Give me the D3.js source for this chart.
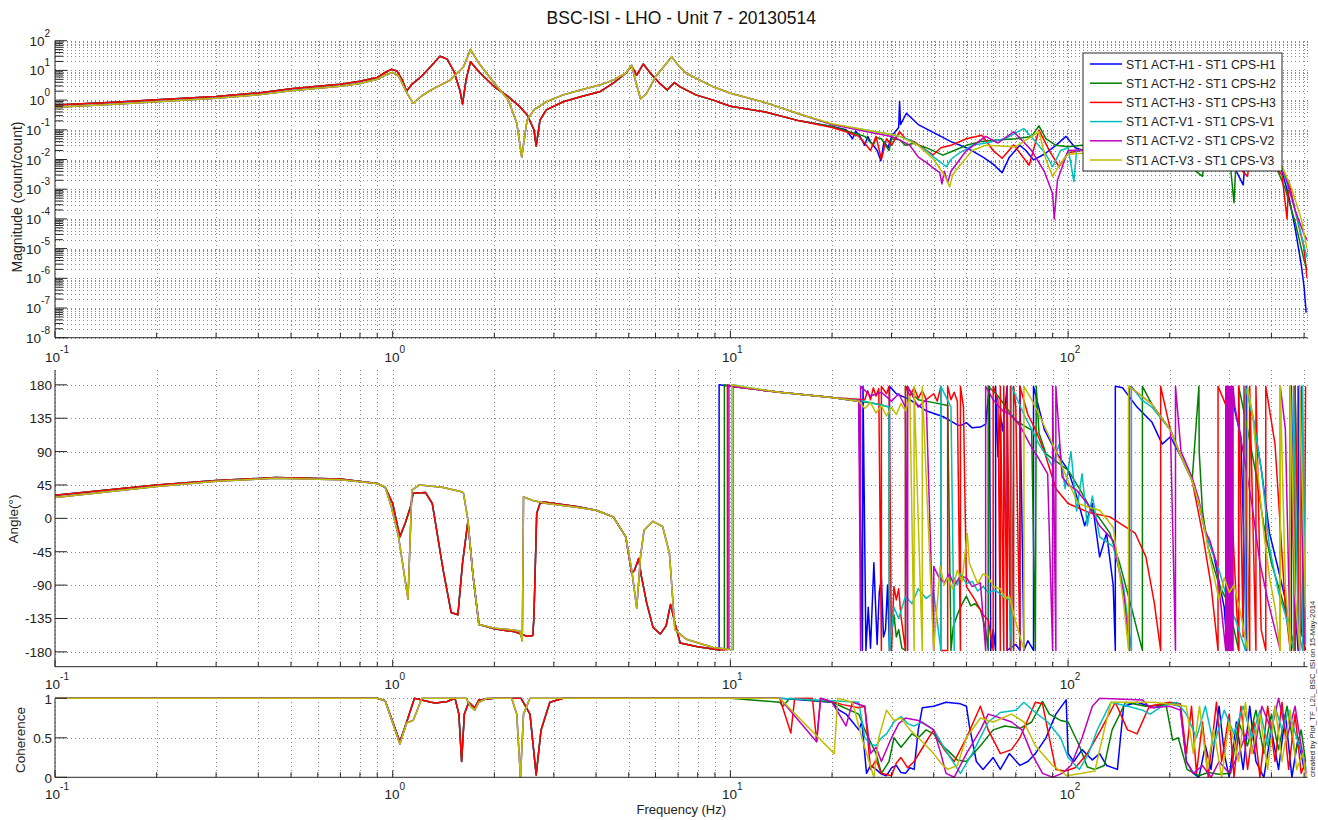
<!DOCTYPE html>
<html>
<head>
<meta charset="utf-8">
<script src="https://cdn.jsdelivr.net/npm/d3@7/dist/d3.min.js"></script>
<style>
  body { margin: 0; background: #fff; }
  svg { display: block; font-family: "Liberation Sans", Arial, Helvetica, sans-serif; }
</style>
</head>
<body>
<div id="chart"></div>
<script>
// ---- data ----
const seriesNames = [
  "ST1 ACT-H1 - ST1 CPS-H1", "ST1 ACT-H2 - ST1 CPS-H2", "ST1 ACT-H3 - ST1 CPS-H3",
  "ST1 ACT-V1 - ST1 CPS-V1", "ST1 ACT-V2 - ST1 CPS-V2", "ST1 ACT-V3 - ST1 CPS-V3"
];
const freqDomain = [0.1, 512];
const magTickExps = [-8, -7, -6, -5, -4, -3, -2, -1, 0, 1, 2];
const angleTicks = [-180, -135, -90, -45, 0, 45, 90, 135, 180];
const cohTicks = [0, 0.5, 1];

// magnitude, shared low band (H and V actuators)
const magLowH = [[0.1,0.68],[0.15,0.85],[0.2,1.02],[0.3,1.32],[0.4,1.75],[0.5,2.4],[0.6,2.9],[0.7,3.4],[0.8,4.3],[0.9,5.8],[0.95,8.5],[0.99,10.9],[1.03,9.5],[1.07,4.5],[1.1,2.0],[1.14,3.4],[1.22,6.5],[1.3,14],[1.38,30],[1.45,24],[1.52,9],[1.58,2.2],[1.61,0.74],[1.65,5],[1.7,19.6],[1.8,9],[2.0,2.8],[2.2,1.3],[2.38,0.6],[2.5,0.32],[2.62,0.1],[2.66,0.028],[2.73,0.21],[2.85,0.47],[3.2,0.88],[3.6,1.3],[4.1,1.9],[4.5,3.7],[4.9,8],[5.1,14],[5.28,7],[5.52,16.4],[5.8,8],[6.2,3.5],[6.5,2.2],[6.83,3.9],[7.1,2.8],[7.9,1.5],[8.9,1.0],[10,0.62],[12.7,0.4],[16,0.2]];
const magLowV = [[0.1,0.58],[0.15,0.72],[0.2,0.88],[0.3,1.15],[0.4,1.5],[0.5,2.05],[0.6,2.5],[0.7,2.9],[0.8,3.6],[0.9,5],[0.95,7],[1.0,8.5],[1.04,6.5],[1.1,1.8],[1.15,0.78],[1.22,1.4],[1.3,2.2],[1.48,4.7],[1.62,13],[1.7,51],[1.8,17.3],[2.0,3.7],[2.2,1.0],[2.33,0.17],[2.41,0.012],[2.5,0.21],[2.62,0.47],[2.85,0.88],[3.2,1.5],[3.6,2.2],[4.1,3.2],[4.5,4.7],[4.9,8],[5.1,15],[5.25,4],[5.42,1.09],[5.65,1.7],[6.0,6.1],[6.4,15],[6.7,29],[7.0,15],[7.4,8],[8.9,2.8],[10,1.7],[12.7,0.82],[16,0.34]];

const magHighH1 = [[20,0.13],[22,0.1],[23,0.05],[23.5,0.09],[24,0.07],[25,0.03],[25.5,0.06],[26,0.04],[27.2,0.02],[27.9,0.009],[28.5,0.04],[29.3,0.025],[30,0.06],[31.5,0.12],[31.7,0.9],[31.9,0.15],[33.2,0.36],[36,0.15],[40,0.08],[45,0.04],[50,0.025],[56,0.012],[60,0.007],[63.8,0.0036],[67,0.012],[72,0.03],[75,0.02],[79,0.0097],[85,0.015],[92,0.03],[98.6,0.06],[105,0.025],[120,0.015],[150,0.02],[200,0.02],[250,0.015],[300,0.012],[330,0.0014],[335,0.012],[380,0.01],[405,0.008],[430,0.004],[450,0.0006],[470,0.00005],[490,0.000003],[500,0.0000005],[507,0.00000007]];
const magHighH2 = [[20,0.13],[23,0.08],[25,0.06],[26.5,0.03],[27,0.055],[28,0.05],[29.5,0.02],[30,0.05],[31.7,0.046],[33,0.03],[35,0.035],[38,0.025],[42.6,0.014],[46,0.02],[50,0.03],[55,0.04],[62,0.045],[70,0.05],[78,0.06],[82,0.136],[86,0.05],[92,0.03],[100,0.027],[110,0.03],[150,0.025],[200,0.02],[250,0.0027],[255,0.02],[300,0.015],[310,0.00035],[315,0.015],[380,0.012],[410,0.007],[440,0.001],[470,0.00008],[500,0.000004],[510,0.000002]];
const magHighH3 = [[20,0.12],[22.5,0.08],[24,0.06],[25,0.035],[26,0.02],[27,0.06],[28,0.01],[29,0.05],[30,0.03],[31.7,0.086],[33,0.05],[35,0.04],[37,0.025],[39.8,0.0142],[42,0.025],[45,0.03],[50,0.05],[55.6,0.065],[60,0.02],[63.8,0.011],[69,0.031],[76.7,0.0064],[82,0.098],[88,0.02],[94,0.0057],[100,0.017],[110,0.02],[150,0.02],[200,0.018],[300,0.012],[340,0.0027],[345,0.012],[400,0.008],[430,0.003],[445,0.0001],[450,0.002],[470,0.0002],[500,0.00001],[510,0.000001]];
const magHighV1 = [[20,0.15],[25,0.1],[30,0.07],[31.7,0.06],[34,0.045],[36,0.03],[38,0.02],[40,0.012],[43.6,0.0057],[45,0.01],[47,0.015],[52,0.03],[57,0.036],[65,0.05],[73.9,0.11],[80,0.04],[86,0.015],[90,0.0057],[95,0.02],[100,0.025],[104,0.0018],[106,0.02],[150,0.025],[200,0.02],[300,0.015],[400,0.01],[430,0.005],[460,0.0005],[490,0.00003],[510,0.000005]];
const magHighV2 = [[20,0.15],[25,0.09],[30,0.06],[31.7,0.046],[34,0.03],[36,0.012],[38,0.008],[40,0.005],[41.7,0.0036],[42.3,0.0015],[43,0.004],[44,0.0017],[45,0.004],[50,0.02],[57,0.06],[62,0.036],[69,0.086],[78,0.02],[85,0.004],[90,0.0007],[91,0.0001],[93,0.002],[100,0.02],[150,0.025],[200,0.02],[300,0.015],[400,0.01],[440,0.003],[470,0.0002],[500,0.00003],[510,0.00002]];
const magHighV3 = [[20,0.16],[25,0.1],[30,0.07],[31.7,0.06],[36,0.03],[40,0.01],[43,0.003],[44.6,0.0012],[45.5,0.003],[47,0.005],[52,0.02],[57,0.03],[70,0.027],[82,0.086],[86,0.01],[90,0.0027],[95,0.0075],[100,0.015],[150,0.02],[200,0.02],[300,0.015],[400,0.01],[430,0.006],[460,0.001],[490,0.0001],[510,0.00001]];

// phase (deg)
const phaseLowH = [[0.1,31],[0.2,45],[0.3,51],[0.45,55],[0.7,53],[0.9,47],[0.95,42],[1.0,20],[1.05,-25],[1.09,-6],[1.13,16],[1.15,34],[1.25,35],[1.31,20],[1.41,-69],[1.49,-127],[1.56,-130],[1.61,-60],[1.67,-4],[1.73,-78],[1.8,-143],[2.0,-149],[2.3,-153],[2.5,-159],[2.6,-158],[2.62,-132],[2.67,7],[2.73,20],[2.8,22],[3.5,16],[4.0,11],[4.5,2],[4.9,-25],[5.1,-74],[5.2,-70],[5.35,-54],[5.45,-78],[5.65,-114],[5.9,-147],[6.2,-156],[6.45,-145],[6.65,-116],[6.85,-141],[7.1,-168],[8,-173],[9.2,-177]];
const phaseLowV = [[0.1,28],[0.2,43],[0.3,50],[0.45,54],[0.7,52],[0.9,47],[0.95,42],[0.99,16],[1.04,-24],[1.11,-109],[1.14,38],[1.2,45],[1.4,42],[1.6,36],[1.62,34],[1.67,-2],[1.73,-78],[1.8,-143],[2.0,-148],[2.2,-150],[2.38,-152],[2.42,-165],[2.44,29],[2.6,24],[2.86,20],[3.5,15],[4.0,11],[4.5,2],[4.9,-25],[5.1,-69],[5.28,-121],[5.42,-51],[5.55,-16],[5.9,-4],[6.3,-11],[6.6,-47],[6.85,-150],[7.4,-163],[8.9,-174],[9.7,-176]];

const phaseHighH1 = [[9.26,-178],[9.26,180],[10,178],[14,170],[20,163],[24,158],[24.6,-178],[24.7,178],[25.2,-178],[25.6,-120],[26,-175],[26.6,-60],[27.2,-170],[27.6,-100],[28,-80],[28.4,-160],[28.8,-150],[29.2,-90],[29.6,-178],[29.6,178],[31,168],[34,160],[38,145],[42.7,137],[45,131],[47,126],[48,125],[50,129],[52,122],[55,123],[57,127],[58.5,178],[59,-178],[60,-150],[61,-178],[61,178],[62,83],[63,140],[64,118],[66,178],[66,-178],[70,-170],[72,-178],[72,178],[74,-178],[76,-165],[79,-178],[79,178],[85,120],[92,90],[100,65],[106,30],[112,-10],[118,20],[124,-52],[130,-20],[136,-90],[138,-178],[138,178],[145,176],[160,150],[177,130],[190,100],[201,110],[216,83],[233,51],[244,20],[254,-16],[270,-50],[290,-120],[296,-178],[296,178],[310,150],[325,110],[338,-178],[338,178],[355,130],[375,60],[395,-20],[420,-70],[440,-110],[458,-178],[458,178],[470,-120],[480,-178],[480,178],[490,-150],[505,-178]];
const phaseHighH2 = [[9.6,-177],[9.6,180],[10,178],[14,170],[20,163],[25,157],[28,153],[29.5,150],[29.6,-178],[30.5,-130],[31,-160],[31.5,-150],[32.2,-175],[33,-178],[33,178],[36,160],[40,156],[44,152],[45,-178],[45.7,-146],[47,-130],[48,-120],[49,-112],[50,-105],[51.5,-118],[53,-115],[55,-123],[57,-150],[58,-178],[58,178],[62,165],[66,148],[70,132],[74,125],[78,119],[80,-178],[80.5,178],[82,115],[86,87],[94,74],[100,65],[108,40],[116,15],[124,0],[133,-20],[142,-60],[152,-110],[160,-150],[166,-178],[166,178],[177,154],[201,119],[216,83],[233,51],[244,178],[244.5,90],[250,10],[260,-40],[280,-90],[298,-114],[310,-150],[320,-178],[320,178],[340,120],[360,60],[380,-10],[400,-60],[425,-100],[450,-140],[470,-178],[470,178],[485,-150],[505,-170]];
const phaseHighH3 = [[9.8,-177],[9.8,180],[10,178],[14,170],[20,163],[25,160],[25.5,172],[26,160],[26.5,176],[27,165],[27.5,175],[28,-178],[28,178],[29,168],[29.5,178],[30,-178],[30.5,-92],[31,-110],[31.5,-95],[32,-132],[33,-178],[33,178],[34,165],[35,176],[36,162],[37,172],[38,160],[40,168],[41,158],[42,178],[42,-178],[44,-178],[44,178],[45,160],[46,170],[47,158],[48,-178],[48,178],[49,150],[50,-92],[53,-110],[56,-130],[58,-137],[60,-178],[60,178],[62,160],[63,-178],[63,178],[64.5,-178],[64.5,178],[66,-178],[66,178],[67.5,-178],[67.5,178],[69,-178],[69,178],[70,150],[72,-178],[72,178],[76,140],[80,120],[85,90],[92,40],[100,20],[115,8],[133,2],[158,-20],[170,-52],[180,-114],[188,-178],[188,178],[201,119],[216,83],[233,51],[250,-20],[265,-90],[278,-178],[278,178],[295,150],[320,-178],[320,178],[330,-160],[332,178],[345,-178],[345,178],[360,-178],[360,178],[373,-150],[385,-178],[385,178],[410,100],[440,-120],[455,-178],[455,178],[470,-178],[470,178],[485,-160],[492,178],[500,-178],[505,178]];
const phaseHighV1 = [[10.2,-177],[10.2,180],[11,177],[14,170],[20,163],[25,158],[29.5,150],[29.6,-178],[30.5,-120],[31.5,-135],[33,-105],[34.5,-115],[36,-95],[38,-108],[40,-100],[42,-178],[42,178],[45,150],[46,-178],[46,-80],[47,-90],[48,-75],[50,-88],[52,-85],[54,-98],[56,-92],[58,-100],[61,-97],[64,-105],[67,-110],[68,-178],[68,178],[70,165],[74,140],[78,120],[82,100],[86,85],[90,70],[94,100],[98,40],[102,90],[106,10],[110,60],[114,-10],[118,30],[124,-25],[136,-38],[146,-92],[154,-178],[154,178],[165,160],[177,150],[201,119],[216,83],[233,51],[244,20],[254,-16],[280,-70],[298,-114],[315,-140],[335,-178],[335,178],[355,130],[375,60],[395,-40],[420,-100],[440,-130],[465,-178],[465,178],[480,-150],[495,-178],[495,178],[505,-170]];
const phaseHighV2 = [[9.9,-177],[9.9,180],[10,178],[14,170],[20,163],[24,158],[24.3,-178],[24.3,178],[26,165],[28,170],[30,158],[31.5,168],[33,150],[33.5,-178],[33.5,178],[36,150],[38,160],[40,-178],[40,-65],[41.5,-80],[43,-87],[44.5,-75],[46,-90],[48,-78],[50,-80],[52,-92],[55,-87],[57,-178],[57,178],[60,160],[64,145],[67,141],[72,125],[77,100],[82,80],[87,60],[90,-178],[90,178],[92,-178],[92,178],[96,56],[100,45],[106,38],[114,20],[124,-10],[136,-30],[146,-100],[152,-178],[152,178],[165,165],[177,154],[201,119],[208,-178],[208,178],[216,90],[233,55],[244,25],[254,-16],[263,-30],[275,-60],[293,-178],[293,178],[296,-178],[296,178],[299,-178],[299,178],[302,-178],[302,178],[305,-178],[305,178],[308,-178],[308,178],[312,150],[330,90],[350,20],[370,-60],[390,-110],[410,-150],[425,-178],[425,178],[440,120],[455,-178],[455,178],[470,-130],[485,-178],[485,178],[500,-170]];
const phaseHighV3 = [[10.1,-177],[10.1,180],[11,177],[14,170],[20,163],[24,158],[25,148],[26,156],[27,142],[28,152],[29,138],[30,150],[31,140],[32,155],[33,145],[34,165],[35,-178],[35,178],[37,-178],[37,178],[40,-178],[41.8,-65],[43,-90],[44,-80],[45.5,-95],[47,-70],[48.5,-85],[50.3,-20],[51,-60],[52,-70],[54,-88],[56,-75],[58,-78],[60,-92],[63,-95],[65,-108],[67,-105],[70,-140],[74,-177],[74,178],[78,160],[82,140],[88,110],[94,80],[100,50],[107,20],[115,15],[124,11],[136,-12],[146,-114],[151,-177],[151,178],[160,170],[177,154],[201,119],[216,83],[233,51],[244,20],[254,-16],[265,-60],[280,-110],[290,-80],[300,-100],[310,-90],[325,-130],[340,-178],[340,178],[352,140],[365,60],[380,-20],[395,-80],[410,-120],[425,-178],[425,178],[440,-90],[455,-178],[455,178],[470,-100],[485,-178],[485,178],[505,-120]];

// coherence
const cohLowH = [[0.1,1],[0.9,1],[0.95,0.97],[1.05,0.45],[1.1,0.7],[1.16,1.0],[1.3,0.95],[1.34,0.94],[1.45,0.96],[1.53,1.0],[1.57,0.8],[1.6,0.2],[1.63,0.8],[1.68,0.95],[1.75,0.88],[1.8,0.98],[2.0,1],[2.4,1],[2.55,0.8],[2.66,0.03],[2.75,0.6],[2.92,0.95],[3.2,1],[10,1]];
const cohLowV = [[0.1,1],[0.9,1],[0.95,0.97],[1.05,0.42],[1.1,0.69],[1.15,0.72],[1.22,1.0],[1.65,1.0],[1.7,0.9],[1.75,0.85],[1.8,0.95],[1.9,1],[2.25,1],[2.33,0.8],[2.39,0.0],[2.44,0.8],[2.55,1],[10,1]];

const cohHighH1 = [[14,1],[20,0.95],[21,0.85],[22,0.8],[23,0.7],[24,0.6],[24.5,0.7],[25.3,0.05],[26,0.15],[27,0.1],[28,0.04],[29,0.02],[30,0.12],[31,0.15],[32,0.06],[33,0.05],[34,0.12],[35,0.1],[36,0.6],[37,0.88],[40,0.9],[43.5,0.95],[48,0.93],[50,0.9],[51,0.65],[53.5,0.2],[56,0.1],[60,0.25],[63,0.1],[67,0.3],[72,0.15],[76,0.2],[80,0.3],[86,0.5],[92,0.8],[98.7,0.98],[100,0.3],[104,0.2],[110,0.35],[118,0.22],[124,0.3],[130,0.15],[140,0.1],[146,0.9],[160,0.95],[180,0.88],[200,0.93],[215,0.9],[224,0.2],[235,0.05],[244,0.0],[255,0.4],[265,0.1],[280,0.9],[290,0.3],[300,0.0],[315,0.7],[330,0.1],[345,0.9],[360,0.2],[380,0.0],[400,0.6],[420,0.1],[440,0.8],[460,0.0],[480,0.5],[500,0.1]];
const cohHighH2 = [[14,0.95],[14.3,0.9],[15,1],[20,0.95],[24,0.8],[25,0.6],[27,0.3],[28,0.05],[29.5,0.2],[30.5,0.5],[32,0.38],[33,0.45],[34.5,0.55],[36,0.5],[38,0.6],[40,0.55],[42,0.42],[45,0.3],[47,0.22],[50,0.2],[55,0.4],[60,0.6],[65,0.65],[72,0.62],[78,0.7],[84,0.96],[88,0.8],[95,0.72],[100,0.7],[108,0.4],[114,0.13],[120,0.1],[128,0.15],[135,0.6],[148,0.95],[170,0.9],[195,0.92],[204,0.47],[212,0.5],[225,0.1],[244,0.02],[260,0.06],[280,0.04],[303,0.05],[320,0.7],[340,0.4],[360,0.85],[380,0.3],[400,0.8],[420,0.35],[445,0.9],[470,0.3],[490,0.6],[505,0.2]];
const cohHighH3 = [[14,1],[15.1,0.56],[15.5,1],[17.5,1],[18,0.45],[18.5,1],[21.5,0.92],[24,0.88],[25,0.9],[26,0.1],[27,0.22],[28,0.05],[30,0.02],[31,0.18],[32,0.25],[33.5,0.12],[35,0.2],[38,0.45],[40,0.6],[43,0.35],[46,0.2],[50,0.5],[55,0.9],[58,0.6],[63,0.3],[68,0.35],[72,0.5],[80,0.95],[84,0.93],[88,0.5],[92,0.1],[98,0.08],[105,0.12],[114,0.3],[125,0.6],[138,0.95],[150,0.6],[160,0.55],[174,0.9],[200,0.95],[215,0.93],[224,0.3],[232,0.9],[240,0.05],[250,0.7],[260,0.0],[275,0.95],[285,0.2],[300,0.8],[310,0.0],[325,0.9],[340,0.1],[355,0.7],[370,0.0],[390,0.9],[410,0.2],[430,0.95],[450,0.1],[470,0.8],[490,0.05],[505,0.2]];
const cohHighV1 = [[14,1],[20,0.97],[24,0.95],[25,0.5],[26,0.42],[27,0.4],[28,0.5],[29,0.55],[30.5,0.7],[32,0.77],[33.5,0.68],[35,0.65],[37,0.7],[40,0.6],[44,0.3],[48,0.05],[52,0.3],[58,0.7],[63,0.82],[70,0.85],[74,0.95],[80,0.82],[87,0.7],[95,0.5],[100,0.25],[108,0.1],[115,0.3],[122,0.6],[134,0.95],[150,0.9],[166,0.85],[175,0.8],[190,0.9],[210,0.95],[224,0.8],[240,0.5],[255,0.9],[270,0.4],[290,0.85],[310,0.55],[330,0.9],[350,0.5],[370,0.85],[390,0.4],[410,0.9],[430,0.6],[450,0.85],[475,0.5],[495,0.3],[507,0.1]];
const cohHighV2 = [[14,1],[18,0.45],[18.5,1],[20,0.95],[22,0.65],[23,0.95],[25,0.9],[26,0.3],[27,0.38],[28,0.2],[30,0.5],[31.5,0.68],[33,0.75],[36,0.72],[38,0.66],[40,0.6],[42,0.3],[43.5,0.05],[46,0.0],[50,0.3],[55,0.6],[58,0.8],[63,0.75],[68,0.7],[73,0.6],[78,0.3],[84,0.05],[90,0.0],[96,0.05],[102,0.15],[110,0.5],[118,0.9],[124,1.0],[166,0.98],[175,0.88],[200,0.9],[215,0.85],[224,0.2],[235,0.05],[250,0.15],[265,0.0],[280,0.2],[300,0.05],[320,0.3],[340,0.6],[355,0.3],[375,0.9],[400,0.6],[420,1.0],[445,0.5],[470,0.9],[490,0.4],[507,0.05]];
const cohHighV3 = [[14,1],[20.3,0.3],[20.8,1],[23,0.95],[24.5,0.5],[26.6,0.0],[27.5,0.5],[29,0.85],[30.5,0.72],[32,0.75],[34,0.6],[36,0.5],[38,0.4],[40,0.3],[42,0.18],[44,0.1],[47,0.15],[50,0.5],[55,0.75],[60,0.7],[68,0.8],[74,0.7],[80,0.4],[90,0.15],[99,0.02],[110,0.05],[120,0.08],[128,0.6],[134,0.95],[180,0.95],[224,0.9],[235,0.3],[245,0.9],[258,0.1],[270,0.6],[285,0.0],[300,0.7],[320,0.2],[335,0.95],[350,0.3],[370,0.8],[390,0.1],[410,0.9],[430,0.2],[455,0.85],[475,0.1],[495,0.3],[507,0.0]];

// ---- assemble ----
const colors = ["#0000ff", "#008000", "#ff0000", "#00bfbf", "#bf00bf", "#bfbf00"];
const series = [
  { mag: magLowH.concat(magHighH1), ph: phaseLowH.concat(phaseHighH1), coh: cohLowH.concat(cohHighH1) },
  { mag: magLowH.concat(magHighH2), ph: phaseLowH.concat(phaseHighH2), coh: cohLowH.concat(cohHighH2) },
  { mag: magLowH.concat(magHighH3), ph: phaseLowH.concat(phaseHighH3), coh: cohLowH.concat(cohHighH3) },
  { mag: magLowV.concat(magHighV1), ph: phaseLowV.concat(phaseHighV1), coh: cohLowV.concat(cohHighV1) },
  { mag: magLowV.concat(magHighV2), ph: phaseLowV.concat(phaseHighV2), coh: cohLowV.concat(cohHighV2) },
  { mag: magLowV.concat(magHighV3), ph: phaseLowV.concat(phaseHighV3), coh: cohLowV.concat(cohHighV3) }
];
series.forEach((s, i) => { s.name = seriesNames[i]; s.color = colors[i]; });

const W = 1318, H = 820;
const left = 55, right = 1307.6;
const axisColor = "#262626", gridColor = "#8a8a8a";

const svg = d3.select("#chart").append("svg")
  .attr("width", W).attr("height", H);
svg.append("rect").attr("width", W).attr("height", H).attr("fill", "#fff");

const x = d3.scaleLog().domain(freqDomain).range([left, right]);
const yMag = d3.scaleLog().domain([1e-8, 1e2]).range([337.7, 40.7]);
const yAng = d3.scaleLinear().domain([-200, 200]).range([666.7, 370]);
const yCoh = d3.scaleLinear().domain([0, 1]).range([777.3, 698.3]);

const xMinor = x.ticks();                 // 0.1 .. 500, all 1-9 multiples
const xMajor = [0.1, 1, 10, 100];
const xMajorExp = ["-1", "0", "1", "2"];

// minor magnitude positions 1..9 x 10^k
const magMinor = [];
magTickExps.forEach(e => {
  for (let m = 1; m <= 9; m++) {
    const v = m * Math.pow(10, e);
    if (v <= 100.0001) magMinor.push(v);
  }
});

function dotted(g) {
  return g.attr("stroke", gridColor).attr("stroke-width", 1)
    .attr("stroke-dasharray", "1,3").attr("shape-rendering", "crispEdges");
}

function panel(y, yTop, yBot, hGrid, id) {
  const g = svg.append("g");
  // vertical grid
  g.selectAll(null).data(xMinor).enter().append("line")
    .attr("x1", d => Math.round(x(d)) + 0.5).attr("x2", d => Math.round(x(d)) + 0.5)
    .attr("y1", yTop).attr("y2", yBot).call(dotted);
  // horizontal grid
  g.selectAll(null).data(hGrid).enter().append("line")
    .attr("x1", left).attr("x2", right)
    .attr("y1", d => Math.round(y(d)) + 0.5).attr("y2", d => Math.round(y(d)) + 0.5)
    .call(dotted);
  svg.append("clipPath").attr("id", id)
    .append("rect").attr("x", left).attr("y", yTop - 1).attr("width", right - left).attr("height", yBot - yTop + 2);
  return g;
}

function drawLines(y, key, id) {
  const line = d3.line().x(d => x(d[0])).y(d => y(d[1]));
  svg.append("g").attr("clip-path", `url(#${id})`)
    .selectAll("path").data(series).enter().append("path")
    .attr("d", s => line(s[key]))
    .attr("fill", "none").attr("stroke", s => s.color)
    .attr("stroke-width", 1.5).attr("stroke-linejoin", "round");
}

function xAxis(yBot, labelDy) {
  const g = svg.append("g").attr("stroke", axisColor);
  g.append("line").attr("x1", left).attr("x2", right).attr("y1", yBot).attr("y2", yBot);
  g.selectAll(null).data(xMinor).enter().append("line")
    .attr("x1", d => x(d)).attr("x2", d => x(d))
    .attr("y1", yBot).attr("y2", d => yBot - (xMajor.includes(d) ? 7 : 5));
  const t = svg.append("g").attr("fill", "#222").attr("font-size", 13.5).attr("text-anchor", "middle");
  xMajor.forEach((v, i) => {
    const txt = t.append("text").attr("x", x(v) + 2).attr("y", yBot + labelDy);
    txt.append("tspan").text("10");
    txt.append("tspan").attr("dy", -9).attr("font-size", 10).text(xMajorExp[i]);
  });
}

function yAxisLine(yTop, yBot) {
  svg.append("line").attr("stroke", axisColor)
    .attr("x1", left).attr("x2", left).attr("y1", yTop).attr("y2", yBot);
}

// ---- magnitude panel ----
panel(yMag, 40.7, 337.7, magMinor, "clipMag");
drawLines(yMag, "mag", "clipMag");
xAxis(337.7, 24);
yAxisLine(40.7, 337.7);
svg.append("g").attr("stroke", axisColor).selectAll(null).data(magMinor).enter().append("line")
  .attr("x1", left).attr("x2", d => left + (Math.abs(Math.log10(d) - Math.round(Math.log10(d))) < 1e-9 ? 12 : 8))
  .attr("y1", d => yMag(d)).attr("y2", d => yMag(d));
const magLab = svg.append("g").attr("fill", "#222").attr("font-size", 13.5).attr("text-anchor", "end");
magTickExps.forEach(e => {
  const txt = magLab.append("text").attr("x", 50).attr("y", yMag(Math.pow(10, e)) + 5);
  txt.append("tspan").text("10");
  txt.append("tspan").attr("dy", -9).attr("font-size", 10).text(String(e));
});

// ---- angle panel ----
panel(yAng, 370, 666.7, angleTicks, "clipAng");
drawLines(yAng, "ph", "clipAng");
xAxis(666.7, 22);
yAxisLine(370, 666.7);
svg.append("g").attr("stroke", axisColor).selectAll(null).data(angleTicks).enter().append("line")
  .attr("x1", left).attr("x2", left + 12).attr("y1", d => yAng(d)).attr("y2", d => yAng(d));
svg.append("g").attr("fill", "#222").attr("font-size", 13.5).attr("text-anchor", "end")
  .selectAll(null).data(angleTicks).enter().append("text")
  .attr("x", 52).attr("y", d => yAng(d) + 5).text(d => d);

// ---- coherence panel ----
panel(yCoh, 698.3, 777.3, [0.5, 1], "clipCoh");
drawLines(yCoh, "coh", "clipCoh");
xAxis(777.3, 22);
yAxisLine(698.3, 777.3);
svg.append("g").attr("stroke", axisColor).selectAll(null).data(cohTicks).enter().append("line")
  .attr("x1", left).attr("x2", left + 12).attr("y1", d => yCoh(d)).attr("y2", d => yCoh(d));
svg.append("g").attr("fill", "#222").attr("font-size", 13.5).attr("text-anchor", "end")
  .selectAll(null).data(cohTicks).enter().append("text")
  .attr("x", 52).attr("y", d => yCoh(d) + 5.5).text(d => d);

// ---- titles ----
svg.append("text").attr("x", (left + right) / 2).attr("y", 24).attr("text-anchor", "middle")
  .attr("font-size", 17.5).attr("fill", "#111").text("BSC-ISI - LHO - Unit 7 - 20130514");
svg.append("text").attr("x", (left + right) / 2).attr("y", 814).attr("text-anchor", "middle")
  .attr("font-size", 13).attr("fill", "#222").text("Frequency (Hz)");
svg.append("text").attr("transform", "translate(22,197) rotate(-90)").attr("text-anchor", "middle")
  .attr("font-size", 14).attr("fill", "#222").text("Magnitude (count/count)");
svg.append("text").attr("transform", "translate(18,519) rotate(-90)").attr("text-anchor", "middle")
  .attr("font-size", 13.5).attr("fill", "#222").text("Angle(°)");
svg.append("text").attr("transform", "translate(25,740) rotate(-90)").attr("text-anchor", "middle")
  .attr("font-size", 13.5).attr("fill", "#222").text("Coherence");
svg.append("text").attr("transform", "translate(1315,777) rotate(-90)").attr("text-anchor", "start")
  .attr("font-size", 7.8).attr("fill", "#222").text("created by Plot_TF_L2L_BSC_ISI on 15-May-2014");

// ---- legend ----
const leg = svg.append("g").attr("transform", "translate(1083,53)");
leg.append("rect").attr("width", 199).attr("height", 118)
  .attr("fill", "#fff").attr("stroke", axisColor);
series.forEach((s, i) => {
  const yy = 11 + i * 19.2;
  leg.append("line").attr("x1", 7).attr("x2", 39).attr("y1", yy).attr("y2", yy)
    .attr("stroke", s.color).attr("stroke-width", 1.5);
  leg.append("text").attr("x", 43).attr("y", yy + 4.5).attr("font-size", 12.2)
    .attr("fill", "#222").text(s.name);
});
</script>
</body>
</html>
